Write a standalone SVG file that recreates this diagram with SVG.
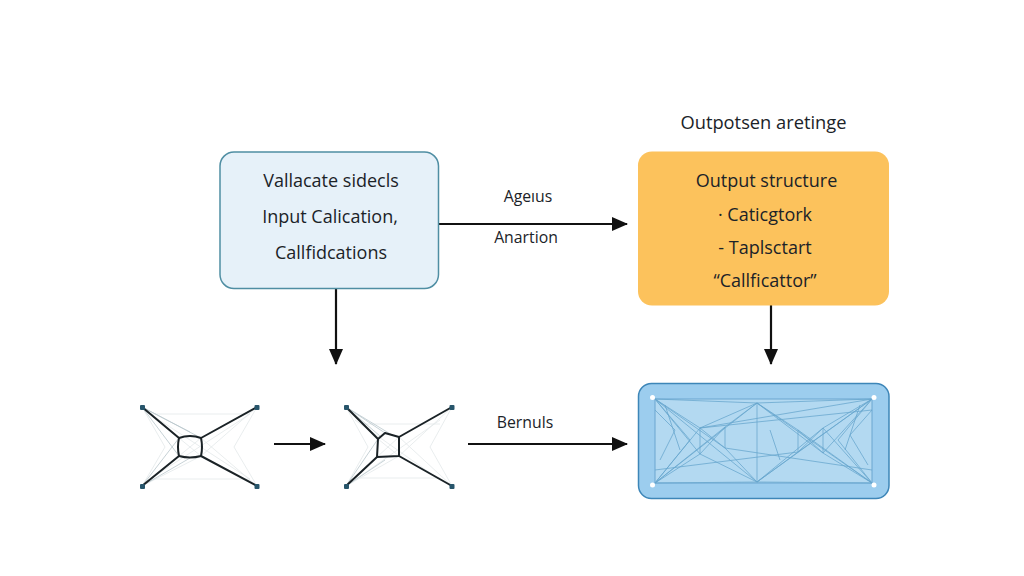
<svg xmlns="http://www.w3.org/2000/svg" width="1024" height="576" viewBox="0 0 1024 576">
  <style>
    text { font-family: "Open Sans", "Noto Sans", sans-serif; fill: #1b2328; text-anchor: middle; }
    .box { font-size: 18px; }
    .tag { font-size: 15.8px; }
    .head { font-size: 18.300px; }
    .flow { stroke: #111; stroke-width: 2.2; fill: none; marker-end: url(#tip); }
    .strut { stroke: #1a2226; stroke-width: 2; fill: none; stroke-linecap: round; stroke-linejoin: round; }
    .faint { stroke: #e3e9ea; stroke-width: 0.8; fill: none; }
    .fan { stroke: #b9c6cc; stroke-width: 0.8; fill: none; }
    .mesh { stroke: #66a5cd; stroke-width: 0.9; fill: none; opacity: .85; }
    .corner { fill: #27556b; }
    .pin { fill: #fff; }
  </style>
  <defs>
    <marker id="tip" viewBox="0 0 16 14" refX="15" refY="7" markerWidth="16" markerHeight="14" markerUnits="userSpaceOnUse" orient="auto">
      <path d="M0 0L16 7L0 14Z" fill="#111"/>
    </marker>
  </defs>
  <rect width="1024" height="576" fill="#fff"/>

  <g id="connectors">
    <path class="flow" d="M439 224H627"/>
    <path class="flow" d="M336 289V364"/>
    <path class="flow" d="M771 305V364"/>
    <path class="flow" d="M274 444H325"/>
    <path class="flow" d="M468 444H627"/>
    <text class="tag" x="528" y="202">Ageıus</text>
    <text class="tag" x="526" y="243">Anartion</text>
    <text class="tag" x="525" y="428">Bernuls</text>
  </g>

  <g id="input-node">
    <rect x="220" y="152" width="218.500" height="136.500" rx="14" fill="#e6f1f9" stroke="#4f8ea3" stroke-width="1.500"/>
    <text class="box" x="331" y="187">Vallacate sidecls</text>
    <text class="box" x="330" y="223">Input Calication,</text>
    <text class="box" x="331" y="259">Callfidcations</text>
  </g>

  <g id="output-title">
    <text class="head" x="763.500" y="129">Outpotsen aretinge</text>
  </g>

  <g id="output-node">
    <rect x="638" y="151.500" width="251" height="154" rx="14" fill="#fcc25c"/>
    <text class="box" x="766.500" y="187">Output structure</text>
    <text class="box" x="765" y="221">· Caticgtork</text>
    <text class="box" x="765" y="254">- Taplsctart</text>
    <text class="box" x="765" y="287">“Callficattor”</text>
  </g>

  <g id="graph-left">
    <path class="faint" d="M142 407L165 447L142 486M257 407L234 447L257 486M150 414H250M150 479H250M142 486L201 456M257 407L201 456M257 486L201 438M179 438L201 456M201 438L179 456M150 414L250 479M150 479L250 414"/>
    <path class="fan" d="M142 407L190 432M142 407L201 438M142 407L179 456M142 486L179 438M142 486L190 458"/>
    <path class="strut" d="M142 407L179 438M257 407L201 438M142 486L179 456M257 486L201 456"/>
    <path class="strut" d="M179 438Q190 434 201 438Q203 447 201 456Q190 459 179 456Q177 447 179 438Z"/>
    <rect class="corner" x="140" y="405" width="5" height="5" rx="1"/>
    <rect class="corner" x="254.500" y="405" width="5" height="5" rx="1"/>
    <rect class="corner" x="140" y="484" width="5" height="5" rx="1"/>
    <rect class="corner" x="254.500" y="484" width="5" height="5" rx="1"/>
  </g>

  <g id="graph-middle">
    <path class="faint" d="M346 407L368 447L346 486M452 407L430 447L452 486M362 424H440M360 478H440M346 486L399 456M452 407L399 456M452 486L399 437M378 439L399 456M399 437L377 457M355 420L440 480M355 480L440 420"/>
    <path class="fan" d="M346 407L385 433M346 407L392 435M346 407L380 436M346 486L378 439M346 486L385 460"/>
    <path class="strut" d="M346 407L378 439M452 407L399 437M346 486L377 457M452 486L399 456"/>
    <path class="strut" d="M378 439L385 433L399 437L399 456L377 457Z"/>
    <rect class="corner" x="344" y="405" width="5" height="5" rx="1"/>
    <rect class="corner" x="449.500" y="405" width="5" height="5" rx="1"/>
    <rect class="corner" x="344" y="484" width="5" height="5" rx="1"/>
    <rect class="corner" x="449.500" y="484" width="5" height="5" rx="1"/>
  </g>

  <g id="mesh-node">
    <rect x="638.500" y="383.500" width="250.500" height="115" rx="13" fill="#9ccdee" stroke="#3d86b8" stroke-width="1.500"/>
    <rect x="655" y="399" width="217" height="84" fill="#b3d9f1" stroke="#6aa6cf" stroke-width="1"/>
    <path class="mesh" d="M655 399L757 403L872 399M655 483L757 482L872 483M655 399L700 428M655 399L700 454M655 399L725 448M655 399L757 482M655 483L700 428M655 483L700 454M655 483L725 427M655 483L757 403M872 399L823 428M872 399L823 453M872 399L798 452M872 399L757 482M872 483L823 428M872 483L823 453M872 483L798 430M872 483L757 403M757 403V482M757 403L700 428M757 403L725 427M757 403L798 430M757 403L823 453M757 482L700 454M757 482L725 448M757 482L798 452M757 482L823 428M700 428V454M725 427V448M798 430V452M823 428V453M700 428L725 448M700 454L725 427M798 430L823 453M798 452L823 428M700 428L872 399M655 410L675 430L660 460M872 410L850 435L868 465M655 399L690 440L655 483M872 399L838 440L872 483M665 405L680 450M860 405L845 450M700 428L872 410M725 448L872 470M655 470L798 452M770 430L780 460"/>
    <circle class="pin" cx="652.500" cy="397.500" r="2.500"/>
    <circle class="pin" cx="874" cy="397.500" r="2.500"/>
    <circle class="pin" cx="652.500" cy="485" r="2.500"/>
    <circle class="pin" cx="874" cy="485" r="2.500"/>
  </g>
</svg>
